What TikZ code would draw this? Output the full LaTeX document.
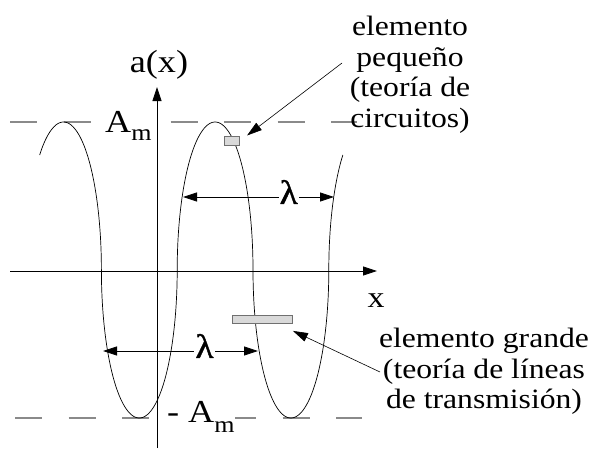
\documentclass[tikz,border=0pt]{standalone}
\usepackage{fontspec}
\setmainfont{Liberation Serif}[FakeStretch=1.13]
\newfontfamily\lamfont{Liberation Serif}[FakeStretch=1.1, FakeBold=1.2]
\usetikzlibrary{arrows.meta, positioning}
\definecolor{cdash}{HTML}{8A8A8A}
\definecolor{celem}{HTML}{D9D9D9}
\definecolor{celemd}{HTML}{707070}

\begin{document}
\begin{tikzpicture}[x=1pt, y=-1pt,
  axis/.style={-{Triangle[length=14pt,width=9pt]}, line width=0.8pt},
  lvl/.style={draw=cdash, line width=1.5pt, dash pattern=on 27pt off 26.5pt},
  wave/.style={line width=0.7pt},
  elem/.style={draw=celemd, fill=celem, line width=0.9pt, inner sep=0pt,
               anchor=north west, minimum width=#1},
  ptr/.style={-{Triangle[length=15pt,width=9pt]}, line width=0.6pt},
  dim/.style={{Triangle[length=14pt,width=9pt]}-{Triangle[length=14pt,width=9pt]},
              line width=0.8pt},
  lam/.style={font=\lamfont\fontsize{34}{34}\selectfont, fill=white,
              inner xsep=1pt, inner ysep=1pt, yshift=5pt},
  amp/.style={font=\fontsize{32}{32}\selectfont, fill=white, inner sep=0pt,
              anchor=base west},
  lbl/.style={font=\fontsize{#1}{#1}\selectfont, anchor=base},
  note/.style={font=\fontsize{28}{30.5}\selectfont, align=center,
               anchor=north, inner sep=0pt}
]
\useasboundingbox (0,0) rectangle (589,448);

%% ── Amplitude levels (dashed)
\draw[lvl] (10,122) -- (357,122);
\draw[lvl] (15,418) -- (362,418);

%% ── Axes
\coordinate (yb) at (157,448);
\coordinate (yt) at (157,87);
\coordinate (xl) at (10,271);
\coordinate (xr) at (377,271);
\draw[axis] (yb) -- (yt);
\draw[axis] (xl) -- (xr);
\node[lbl=32] (ax) at (159,72) {a(x)};
\node[lbl=30] (xx) at (376,307) {x};

%% ── Wave a(x)
\draw[wave] plot[domain=51:771, samples=361, variable=\t]
  ({25.6+37.9*(2*floor(\t/180)+1-cos(\t-180*floor(\t/180)))}, {270-148*sin(\t)});

%% ── Amplitude labels
\node[amp] (amax) at (105,132) {A\raisebox{-8pt}{\fontsize{23}{23}\selectfont m}};
\node[amp] (amin) at (167,422) {- A\raisebox{-10pt}{\fontsize{23}{23}\selectfont m}};

%% ── Wavelength arrows
\coordinate (l1a) at (183,197);
\coordinate (l1b) at (334,197);
\coordinate (l2a) at (103,351);
\coordinate (l2b) at (258,351);
\draw[dim] (l1a) -- node[lam, pos=0.70] (lam1) {λ} (l1b);
\draw[dim] (l2a) -- node[lam, pos=0.655] (lam2) {λ} (l2b);

%% ── Circuit elements
\node[elem=15pt, minimum height=9pt] (small) at (224,136) {};
\node[elem=60pt, minimum height=8pt] (big) at (232,315) {};

%% ── Notes and pointers
\node[note] (peqtxt) at (410,16) {elemento\\pequeño\\(teoría de\\circuitos)};
\node[note] (grtxt) at (484,328) {elemento grande\\(teoría de líneas\\de transmisión)};
\coordinate (pqs) at (342,63);
\coordinate (grs) at (380,372);
\draw[ptr, shorten >=9pt] (pqs) -- (small.east);
\draw[ptr] (grs) -- ([yshift=-7pt]big.south east);

\end{tikzpicture}
\end{document}
